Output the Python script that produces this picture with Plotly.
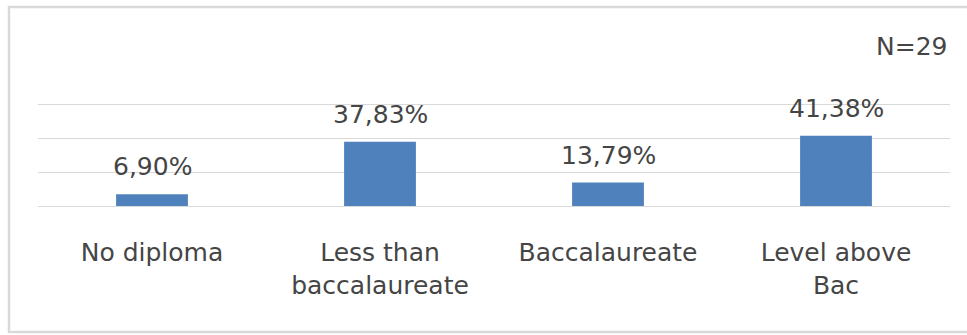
import plotly.graph_objects as go

categories = ["No diploma", "Less than<br>baccalaureate", "Baccalaureate", "Level above<br>Bac"]
values = [6.90, 37.83, 13.79, 41.38]
y_ticks = [0, 20, 40, 60]
note = "N=29"

W, H = 967, 335
Y_MAX = 60.6
L, R, T, B = 38, 17, 103, 129

FONT = "DejaVu Sans, sans-serif"
TXT = "#454545"
GRID = "#d9d9d9"
BAR = "#4f81bd"
FS = 25

fig = go.Figure()
fig.add_trace(go.Bar(
    x=categories, y=values,
    marker=dict(color=BAR, line=dict(width=0)),
    width=0.315,
    hoverinfo="skip",
))

for c, v in zip(categories, values):
    fig.add_annotation(
        x=c, y=v, xref="x", yref="y",
        text=f"{v:.2f}".replace(".", ",") + "%",
        showarrow=False, xanchor="center", yanchor="bottom", yshift=11,
        font=dict(family=FONT, size=FS, color=TXT),
    )

pw = W - L - R
ph = H - T - B
def px_to_paper_x(px):
    return (px - L) / pw
def px_to_paper_y(py):
    return (H - B - py) / ph

fig.add_annotation(
    text=note, xref="paper", yref="paper",
    x=px_to_paper_x(949), y=px_to_paper_y(46),
    xanchor="right", yanchor="middle", showarrow=False,
    font=dict(family=FONT, size=FS, color=TXT),
)

fig.update_layout(
    width=W, height=H,
    margin=dict(l=L, r=R, t=T, b=B, pad=0),
    paper_bgcolor="white", plot_bgcolor="white",
    showlegend=False,
    font=dict(family=FONT, color=TXT),
    xaxis=dict(
        showgrid=False, showline=False, zeroline=False, ticks="",
        tickfont=dict(family=FONT, size=FS, color=TXT),
        ticklabelstandoff=29,
    ),
    yaxis=dict(
        range=[0, Y_MAX], tickvals=y_ticks, showticklabels=False,
        showgrid=True, gridcolor=GRID, gridwidth=1.3,
        zeroline=True, zerolinecolor=GRID, zerolinewidth=1.3,
        showline=False, ticks="",
    ),
    bargap=0.685,
    shapes=[dict(
        type="rect", xref="paper", yref="paper",
        x0=px_to_paper_x(9), x1=px_to_paper_x(975),
        y0=px_to_paper_y(332), y1=px_to_paper_y(7),
        line=dict(color=GRID, width=2.5), fillcolor="rgba(0,0,0,0)", layer="below",
    )],
)

fig.write_html("out.html")
